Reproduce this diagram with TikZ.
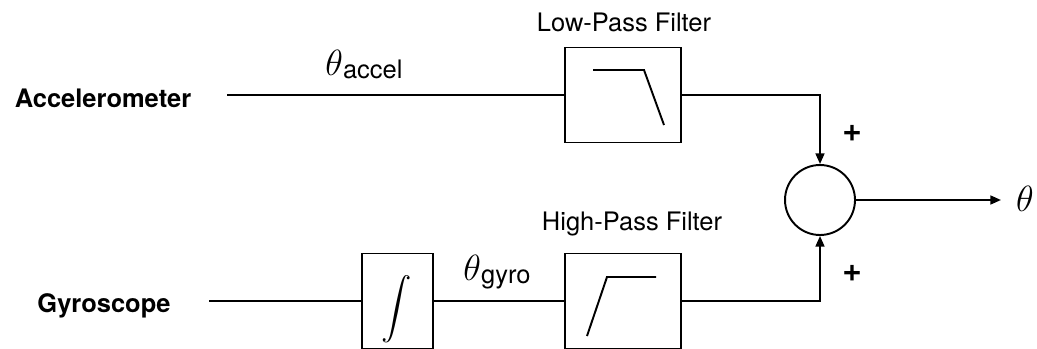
\documentclass[tikz,border=0pt]{standalone}
\usepackage{amsmath}
\usepackage{fontspec}
\setsansfont{TeX Gyre Heros}
\usetikzlibrary{arrows.meta}

\tikzset{
	block/.style={draw,line width=1.1pt,minimum width=2.32cm,minimum height=1.9cm,inner sep=0pt},
	lbl/.style={font=\sffamily\fontsize{14.5}{16}\selectfont,inner sep=0pt},
	sig/.style={line width=1.1pt},
	arr/.style={sig,-{Triangle[length=6pt,width=5pt]}}
}
\newcommand{\thsub}[1]{\fontsize{21}{24}\selectfont$\theta$\raisebox{-2pt}{\sffamily\fontsize{14.5}{16}\selectfont #1}}

\begin{document}
\begin{tikzpicture}[x=0.02cm,y=-0.02cm]
	\useasboundingbox (0,0) rectangle (1037,348);
	\clip (0,0) rectangle (1037,348);

	%BLOCKS
	\node[block] (lpf) at (623,95) {};
	\node[block] (hpf) at (623,301) {};
	\node[block,minimum width=1.42cm] (integ) at (397.5,301) {};
	\node[draw,circle,line width=1.1pt,minimum size=1.4cm,inner sep=0pt] (sum) at (820,200) {};
	\node[inner sep=0pt] (intsym) at (397,309) {\fontsize{17}{20}\selectfont$\displaystyle\int$};

	\draw[sig] (lpf.center)++(-30,-25)--++(51,0)--++(20,55);	%low-pass curve
	\draw[sig] (hpf.center)++(-36,35)--++(20,-59)--++(49,0);	%high-pass curve

	%SIGNALS
	\coordinate (accin) at (227,95);
	\coordinate (gyrin) at (209,301);
	\coordinate (thout) at (1001,200);
	\draw[sig] (accin)--(lpf);
	\draw[sig] (gyrin)--(integ);
	\draw[sig] (integ)--(hpf);
	\draw[arr] (lpf)-|(sum);
	\draw[arr] (hpf)-|(sum);
	\draw[arr] (sum)--(thout);

	%LABELS
	\node[lbl,font=\sffamily\bfseries\fontsize{14.5}{16}\selectfont,anchor=base] (acc) at (103,108) {Accelerometer};
	\node[lbl,font=\sffamily\bfseries\fontsize{14.5}{16}\selectfont,anchor=base] (gyr) at (104,312) {Gyroscope};
	\node[lbl,anchor=base] (lpflbl) at (624,32) {Low-Pass Filter};
	\node[lbl,anchor=base] (hpflbl) at (632,230) {High-Pass Filter};
	\node[inner sep=0pt,anchor=base] (thacc) at (364,75) {\thsub{accel}};
	\node[inner sep=0pt,anchor=base] (thgyr) at (497,280) {\thsub{gyro}};
	\node[inner sep=0pt] (th) at (1025,199) {\fontsize{21}{24}\selectfont$\theta$};
	\node[lbl,font=\sffamily\bfseries\fontsize{19}{20}\selectfont] (plus1) at (852,133) {+};
	\node[lbl,font=\sffamily\bfseries\fontsize{19}{20}\selectfont] (plus2) at (852,273) {+};
\end{tikzpicture}
\end{document}
